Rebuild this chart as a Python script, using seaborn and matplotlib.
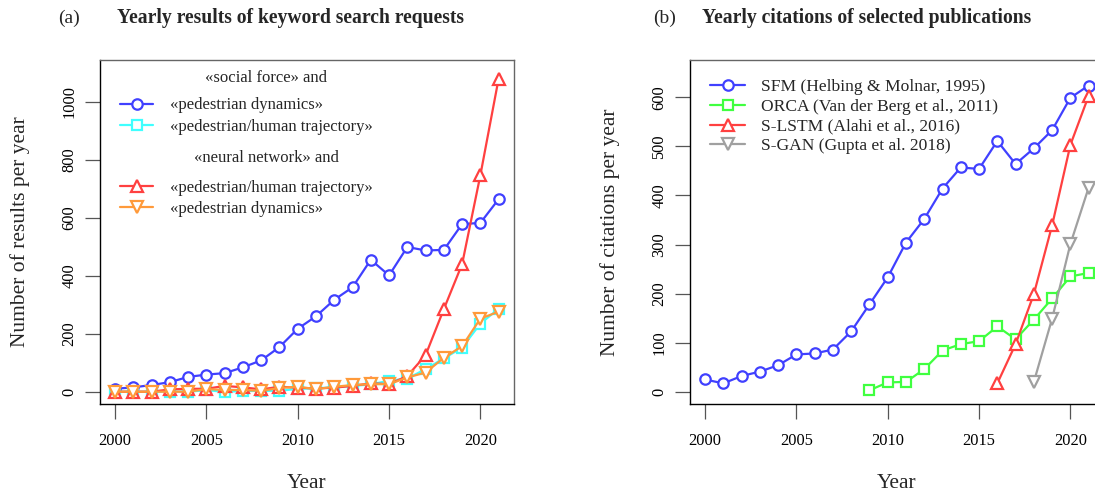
import matplotlib
matplotlib.use("Agg")
import matplotlib.pyplot as plt
import seaborn as sns
import numpy as np

# ---------------- data ----------------
years = list(range(2000, 2022))

# (a) keyword search results
sf_ped_dyn = [10, 15, 23, 33, 51, 59, 64, 84, 108, 154, 217, 260, 317, 360, 455, 401, 499, 487, 489, 578, 582, 664]
sf_traj = [0, 0, 0, 0, 0, 5, 0, 2, 3, 3, 10, 12, 15, 20, 25, 38, 45, 78, 115, 152, 235, 286]
nn_traj = [0, 0, 0, 8, 10, 10, 20, 15, 8, 17, 14, 11, 14, 20, 29, 26, 54, 126, 285, 440, 747, 1080]
nn_ped_dyn = [0, 0, 0, 0, 0, 9, 6, 6, 3, 13, 17, 9, 17, 23, 26, 26, 49, 66, 117, 157, 252, 276]

# (b) citations
sfm_years = list(range(2000, 2022))
sfm_cit = [25, 17, 32, 41, 54, 76, 78, 86, 123, 178, 233, 304, 352, 414, 457, 454, 511, 464, 496, 533, 599, 624]
orca_years = list(range(2009, 2022))
orca_cit = [3, 19, 20, 46, 84, 97, 103, 133, 107, 147, 190, 235, 242]
slstm_years = list(range(2016, 2022))
slstm_cit = [17, 97, 199, 339, 503, 603]
sgan_years = list(range(2018, 2022))
sgan_cit = [20, 149, 301, 416]

left_headers = ["\u00absocial force\u00bb and", "\u00abneural network\u00bb and"]
left_series = ["\u00abpedestrian dynamics\u00bb", "\u00abpedestrian/human trajectory\u00bb",
               "\u00abpedestrian/human trajectory\u00bb", "\u00abpedestrian dynamics\u00bb"]
right_series = ["SFM (Helbing & Molnar, 1995)", "ORCA (Van der Berg et al., 2011)",
                "S-LSTM (Alahi et al., 2016)", "S-GAN (Gupta et al. 2018)"]

# ---------------- style ----------------
sns.set_theme(style="white")
plt.rcParams['font.family'] = ['Liberation Serif', 'DejaVu Serif']
plt.rcParams['axes.unicode_minus'] = False

BLUE = '#4040ff'
CYAN = '#40ffff'
RED = '#ff4040'
ORANGE = '#ff9a3a'
GREEN = '#40ff40'
GRAY = '#a0a0a0'

W, H = 1095, 494
fig = plt.figure(figsize=(W / 100, H / 100), dpi=100)

def px_axes(x0, y0, x1, y1):
    return fig.add_axes([x0 / W, 1 - y1 / H, (x1 - x0) / W, (y1 - y0) / H])

axL = px_axes(99.7, 60, 514, 404)
axR = px_axes(689.7, 60, 1104, 404)

mk = dict(markerfacecolor='white', markeredgewidth=1.6, linewidth=1.6)

def draw(ax, x, y, color, marker, ms, label):
    sns.lineplot(x=x, y=y, ax=ax, color=color, marker=marker, markersize=ms,
                 markeredgecolor=color, label=label, legend=False, **mk)

draw(axL, years, sf_ped_dyn, BLUE, 'o', 7.5, left_series[0])
draw(axL, years, sf_traj, CYAN, 's', 6.5, left_series[1])
draw(axL, years, nn_traj, RED, '^', 8.5, left_series[2])
draw(axL, years, nn_ped_dyn, ORANGE, 'v', 8.5, left_series[3])

draw(axR, sfm_years, sfm_cit, BLUE, 'o', 7.5, right_series[0])
draw(axR, orca_years, orca_cit, GREEN, 's', 6.5, right_series[1])
draw(axR, slstm_years, slstm_cit, RED, '^', 8.5, right_series[2])
draw(axR, sgan_years, sgan_cit, GRAY, 'v', 8.5, right_series[3])

# axes limits (R-style 4% padding)
xlim = (1999.16, 2021.84)
axL.set_xlim(*xlim)
axR.set_xlim(*xlim)
axL.set_ylim(-42.4, 1143.8)
axR.set_ylim(-25.0, 676.0)

axL.set_xticks([2000, 2005, 2010, 2015, 2020])
axR.set_xticks([2000, 2005, 2010, 2015, 2020])
axL.set_yticks([0, 200, 400, 600, 800, 1000])
axR.set_yticks([0, 100, 200, 300, 400, 500, 600])

for ax, ylab in [(axL, "Number of results per year"),
                 (axR, "Number of citations per year")]:
    ax.tick_params(axis='both', which='major', direction='out', length=11, width=0.9,
                   color='#555555', labelsize=11.8, labelcolor='black',
                   bottom=True, left=True, top=False, right=False)
    ax.tick_params(axis='x', pad=10)
    ax.tick_params(axis='y', pad=5)
    for lab in ax.get_yticklabels():
        lab.set_rotation(90)
        lab.set_va('center')
        lab.set_ha('right')
    for side in ['top', 'right']:
        ax.spines[side].set_color('#666666')
        ax.spines[side].set_linewidth(1.0)
    for side in ['left', 'bottom']:
        ax.spines[side].set_color('black')
        ax.spines[side].set_linewidth(1.0)
    ax.set_xlabel("Year", fontsize=15.5)
    ax.set_ylabel(ylab, fontsize=15.5)
    ax.xaxis.set_label_coords(0.5, -0.2297)
    ax.xaxis.label.set_va('center')
    ax.yaxis.set_label_coords(-0.1924, 0.5)
    ax.yaxis.label.set_va('center')
    ax.grid(False)
    ax.set_facecolor('white')

# left legend (two groups with headers)
lines = axL.get_lines()
legL_kw = dict(frameon=False, fontsize=12, handlelength=2.0, handletextpad=1.0,
               labelspacing=0.32, borderaxespad=0, borderpad=0, loc='upper left')
leg1 = axL.legend(handles=[lines[0], lines[1]], labels=left_series[:2],
                  bbox_to_anchor=((120 - 99.7) / 414.3, 1 - (97.5 - 60) / 344), **legL_kw)
axL.add_artist(leg1)
axL.legend(handles=[lines[2], lines[3]], labels=left_series[2:],
           bbox_to_anchor=((120 - 99.7) / 414.3, 1 - (179.5 - 60) / 344), **legL_kw)
axL.text((266 - 99.7) / 414.3, 1 - (78 - 60) / 344, left_headers[0], transform=axL.transAxes,
         ha='center', va='center', fontsize=12)
axL.text((266 - 99.7) / 414.3, 1 - (158 - 60) / 344, left_headers[1], transform=axL.transAxes,
         ha='center', va='center', fontsize=12)

legR_kw = dict(frameon=False, fontsize=12.6, handlelength=2.0, handletextpad=0.9,
               labelspacing=0.2, borderaxespad=0, borderpad=0, loc='upper left')
axR.legend(handles=axR.get_lines(), labels=right_series,
           bbox_to_anchor=((710 - 689.7) / 414.3, 1 - (79 - 60) / 344), **legR_kw)

# titles
fig.text(69 / W, 1 - 18 / H, "(a)", ha='center', va='center', fontsize=14)
fig.text(117 / W, 1 - 18 / H, "Yearly results of keyword search requests", ha='left',
         va='center', fontsize=14.1, fontweight='bold')
fig.text(665 / W, 1 - 18 / H, "(b)", ha='center', va='center', fontsize=14)
fig.text(702 / W, 1 - 18 / H, "Yearly citations of selected publications", ha='left',
         va='center', fontsize=14.1, fontweight='bold')

fig.savefig("out.png", dpi=100, facecolor='white')
